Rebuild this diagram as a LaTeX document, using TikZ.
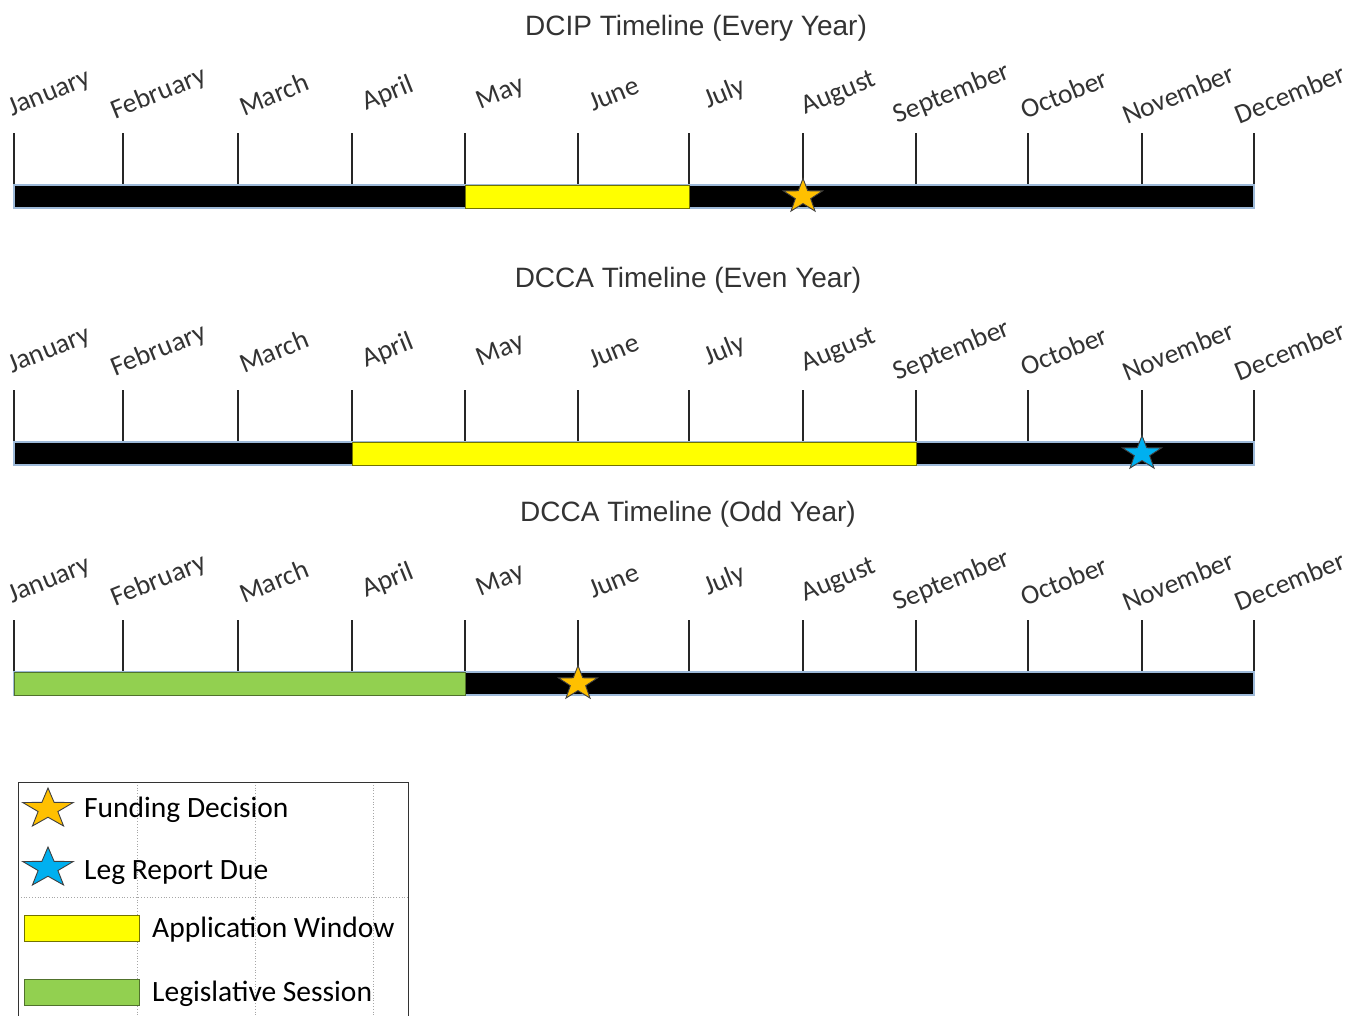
\documentclass[tikz,border=0pt]{standalone}
\usepackage{fontspec}
\setmainfont{Carlito}
\newfontfamily\titlefont{Liberation Sans}
\usepackage{tikz}
\usetikzlibrary{shapes.geometric}

\begin{document}
\begin{tikzpicture}[
  x=1pt, y=-1pt,
  title/.style={font=\titlefont\fontsize{28}{30}\selectfont, text=black!80, inner sep=0pt},
  month/.style={font=\fontsize{27.5}{29}\selectfont, text=black!80, rotate=22,
    anchor=center, inner sep=0pt},
  tickline/.style={draw=black!85, line width=1.6pt},
  bar/.style={fill=black, draw=pedge, line width=1.2pt},
  window/.style={fill=pyellow, draw=black!55!pyellow, line width=1pt},
  session/.style={fill=pgreen, draw=black!45!pgreen, line width=1pt},
  starmark/.style={star, star points=5, star point ratio=2.55, minimum size=41pt,
    inner sep=0pt, yscale=.88, draw=black!75, line width=.9pt},
  keystar/.style={starmark, minimum size=53pt, yscale=.9},
  keybox/.style={draw=black!80, line width=1pt},
  keytext/.style={font=\fontsize{29.5}{32}\selectfont, anchor=base west, inner sep=0pt},
  gridline/.style={draw=black!35, dotted, line width=.8pt}
]
\definecolor{pyellow}{HTML}{FFFF00}
\definecolor{pgreen}{HTML}{92D050}
\definecolor{porange}{HTML}{FFC000}
\definecolor{pblue}{HTML}{00B0F0}
\definecolor{pedge}{HTML}{9DB9D8}

\useasboundingbox (0,0) rectangle (1364,1015);

\node[title] (dcip) at (696,28) {DCIP Timeline (Every Year)};
\node[title] (even) at (688,280) {DCCA Timeline (Even Year)};
\node[title] (odd) at (688,514) {DCCA Timeline (Odd Year)};

\foreach \row/\ytop in {1/133, 2/390, 3/620} {
  \foreach \m/\xx [count=\i] in {January/14, February/123, March/238, April/352,
      May/465, June/578, July/689, August/803, September/916, October/1028,
      November/1142, December/1254} {
    \coordinate (t\row-\i) at (\xx,\ytop);
    \coordinate (b\row-\i) at (\xx,\ytop+52);
    \coordinate (s\row-\i) at (\xx,\ytop+63.5);
    \coordinate (c\row-\i) at (\xx,\ytop+75);
    \node[month] (m\row-\i) at (\xx+36,\ytop-39) {\m};
    \draw[tickline] (t\row-\i) -- (b\row-\i);
  }
  \draw[bar] (b\row-1) rectangle (c\row-12);
}

\draw[window] (b1-5) rectangle (c1-7);
\draw[window] (b2-4) rectangle (c2-9);
\draw[session] (b3-1) rectangle (c3-5);

\node[starmark, fill=porange] (fund1) at (s1-8) {};
\node[starmark, fill=pblue] (report2) at (s2-11) {};
\node[starmark, fill=porange] (fund3) at (s3-6) {};

% legend
\draw[gridline] (137,782) -- (137,1015);
\draw[gridline] (255,782) -- (255,1015);
\draw[gridline] (373,782) -- (373,1015);
\draw[gridline] (18,897) -- (408,897);
\draw[keybox] (18,1020) -- (18,782) -- (408,782) -- (408,1020);

\node[keystar, fill=porange] (kfund) at (48,809) {};
\node[keystar, fill=pblue] (kreport) at (48,868) {};
\draw[window] (24,915) rectangle (139,941);
\draw[session] (24,979) rectangle (139,1005);

\node[keytext] (tfund) at (84,817) {Funding Decision};
\node[keytext] (treport) at (84,879) {Leg Report Due};
\node[keytext] (twindow) at (152,937) {Application Window};
\node[keytext] (tsession) at (152,1001) {Legislative Session};
\end{tikzpicture}
\end{document}
